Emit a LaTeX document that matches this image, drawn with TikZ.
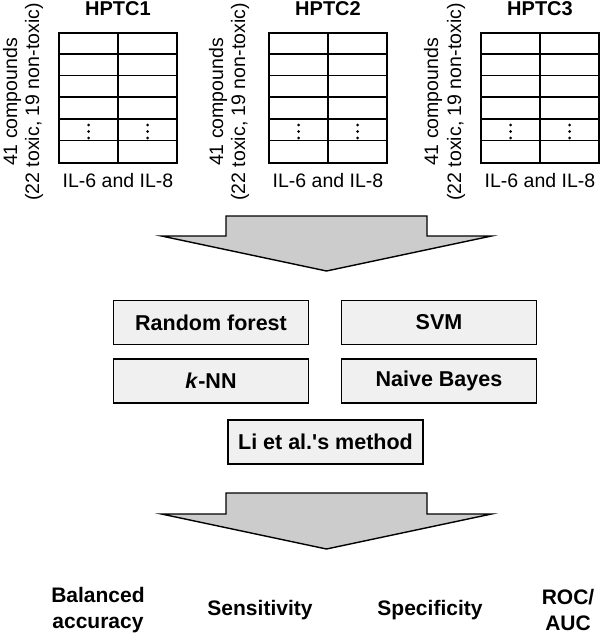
\documentclass[tikz,border=0pt]{standalone}
\usepackage{fontspec}
\setmainfont{Liberation Sans}
\begin{document}
\begin{tikzpicture}[x=1pt,y=-1pt,
  title/.style={font=\fontsize{20}{24}\selectfont\bfseries, anchor=base, inner sep=0pt},
  lbl/.style={font=\fontsize{19.5}{23}\selectfont, anchor=base, inner sep=0pt},
  side/.style={font=\fontsize{19.5}{23}\selectfont, anchor=base, rotate=90, inner sep=0pt},
  tbl/.style={draw, line width=1.7pt, minimum width=118pt, minimum height=130pt, inner sep=0pt},
  grid/.style={line width=1.7pt},
  method/.style={draw, line width=1.6pt, fill=gray!12, minimum width=195pt, minimum height=44pt, inner sep=0pt, font=\fontsize{21.5}{25}\selectfont\bfseries},
  metric/.style={font=\fontsize{21}{26}\selectfont\bfseries, align=center, inner sep=0pt},
  bigarrow/.style={draw, line width=1.4pt, fill=gray!40, line join=miter}
]
\useasboundingbox (0,0) rectangle (600,634);

% tables
\foreach \n/\cx/\la/\lb in {1/118/17/39, 2/328/223/245, 3/540/438/461}{
  \node[tbl] (t\n) at (\cx,98) {};
  \foreach \r in {1,...,5}{
    \draw[grid] ([yshift=-\r*130/6 pt]t\n.north west) -- ([yshift=-\r*130/6 pt]t\n.north east);
  }
  \draw[grid] (t\n.north) -- (t\n.south);
  \foreach \dx in {-29.5,29.5}{
    \foreach \dy in {125,131.5,138}{
      \fill (\cx+\dx,\dy) circle (1.5pt);
    }
  }
  \node[title] (h\n) at (\cx,16) {HPTC\n};
  \node[lbl] (il\n) at (\cx,187) {IL-6 and IL-8};
  \node[side] (sa\n) at (\la,102) {41 compounds};
  \node[side] (sb\n) at (\lb,102) {(22 toxic, 19 non-toxic)};
}

% arrow 1
\draw[bigarrow] (226,216) -- (427,216) -- (427,236) -- (491.5,236) -- (326.5,271) -- (161.5,236) -- (226,236) -- cycle;

% methods
\node[method] (rf) at (211,322.5) {Random forest};
\node[method] (svm) at (439,322.5) {SVM};
\node[method] (knn) at (211,381) {\textit{k}-NN};
\node[method] (nb) at (439,381) {Naive Bayes};
\node[method] (li) at (325.5,442) {Li et al.\textquotesingle s method};

% arrow 2
\draw[bigarrow] (226,493) -- (427,493) -- (427,514) -- (491.5,514) -- (326.5,549) -- (161.5,514) -- (226,514) -- cycle;

% metrics
\node[metric] (ba) at (98,610) {Balanced\\accuracy};
\node[metric] (se) at (260,610) {Sensitivity};
\node[metric] (sp) at (430,610) {Specificity};
\node[metric] (roc) at (568,610) {ROC/\\AUC};
\end{tikzpicture}
\end{document}
